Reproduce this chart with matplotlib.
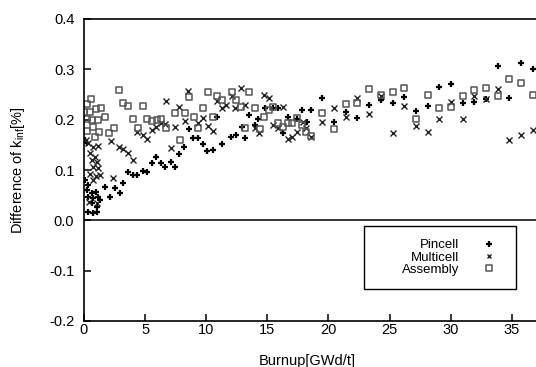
import numpy as np

import matplotlib
matplotlib.use('Agg')

import matplotlib.pyplot as plt
from matplotlib.path import Path

plt.rcParams['font.family'] = ['Liberation Sans', 'DejaVu Sans']
plt.rcParams['mathtext.fontset'] = 'custom'
plt.rcParams['mathtext.rm'] = 'Liberation Sans'

# burnup [GWd/t] and difference of k-inf [%]
pin_x = [0.08, 0.22, 0.08, 0.35, 0.22, 0.63, 0.98, 0.35, 0.76, 1.17, 1.31, 0.63, 1.04, 0.35, 0.71, 1.04,
         1.72, 2.54, 2.95, 2.13, 3.22, 3.63, 4.03, 4.36, 4.80, 5.18, 5.54, 5.89, 6.28, 6.63, 7.10, 7.45,
         7.80, 8.21, 8.62, 8.94, 9.35, 9.71, 10.09, 10.53, 10.86, 11.27, 12.00, 12.44, 12.91, 13.18, 13.53,
         13.99, 14.24, 14.81, 15.47, 15.88, 16.28, 16.69, 17.43, 17.84, 18.25, 18.58, 19.48, 20.46, 21.44,
         22.34, 23.32, 24.30, 25.29, 26.19, 27.17, 28.15, 29.05, 30.03, 31.01, 31.91, 32.90, 33.88, 34.78,
         35.76, 36.74]
pin_y = [0.160, 0.153, 0.080, 0.070, 0.060, 0.054, 0.057, 0.047, 0.044, 0.047, 0.040, 0.034, 0.027, 0.017,
         0.015, 0.017, 0.067, 0.064, 0.055, 0.047, 0.075, 0.097, 0.090, 0.090, 0.099, 0.097, 0.114, 0.125,
         0.114, 0.105, 0.116, 0.106, 0.131, 0.146, 0.181, 0.163, 0.163, 0.152, 0.138, 0.140, 0.205, 0.151,
         0.165, 0.169, 0.186, 0.163, 0.209, 0.189, 0.201, 0.224, 0.223, 0.223, 0.174, 0.206, 0.201, 0.219,
         0.196, 0.219, 0.243, 0.196, 0.216, 0.203, 0.229, 0.239, 0.234, 0.245, 0.218, 0.228, 0.265, 0.270,
         0.234, 0.236, 0.242, 0.307, 0.244, 0.312, 0.300]

multi_x = [0.16, 0.35, 0.76, 1.17, 0.49, 0.90, 0.63, 1.04, 0.76, 1.17, 0.49, 0.98, 1.31, 0.76, 2.18, 2.89,
           3.17, 2.40, 0.43, 1.04, 3.63, 4.03, 4.36, 4.80, 5.18, 5.54, 5.89, 6.28, 6.63, 6.71, 7.10, 7.45,
           7.80, 8.27, 8.54, 9.35, 9.76, 10.17, 10.58, 10.86, 11.27, 11.62, 12.09, 12.36, 12.82, 13.18,
           13.99, 14.32, 14.73, 15.14, 15.47, 15.88, 16.28, 16.69, 17.02, 17.43, 17.92, 18.17, 18.58, 19.48,
           20.46, 21.44, 22.34, 23.32, 24.30, 25.29, 26.19, 27.17, 28.15, 29.05, 30.03, 31.01, 31.91, 32.90,
           33.88, 34.78, 35.76, 36.74]
multi_y = [0.160, 0.153, 0.145, 0.148, 0.133, 0.126, 0.120, 0.116, 0.106, 0.103, 0.093, 0.088, 0.090, 0.080,
           0.158, 0.145, 0.141, 0.085, 0.037, 0.034, 0.134, 0.120, 0.175, 0.169, 0.162, 0.179, 0.185, 0.194,
           0.191, 0.237, 0.143, 0.185, 0.225, 0.198, 0.257, 0.194, 0.203, 0.187, 0.177, 0.237, 0.223, 0.229,
           0.247, 0.223, 0.262, 0.229, 0.184, 0.173, 0.249, 0.244, 0.189, 0.184, 0.226, 0.162, 0.166, 0.175,
           0.196, 0.183, 0.166, 0.196, 0.224, 0.206, 0.244, 0.211, 0.247, 0.174, 0.227, 0.188, 0.176, 0.201,
           0.236, 0.201, 0.247, 0.242, 0.260, 0.160, 0.169, 0.179]

asm_x = [0.55, 0.27, 0.00, 0.49, 0.98, 1.37, 0.22, 0.63, 1.17, 1.72, 0.76, 0.27, 1.25, 0.90, 2.07, 2.45,
         2.89, 3.22, 3.63, 4.80, 3.99, 5.13, 5.54, 5.95, 6.30, 4.44, 6.71, 7.45, 7.86, 8.27, 8.62, 9.00,
         9.35, 9.76, 10.17, 10.58, 10.86, 11.27, 12.09, 12.44, 12.82, 13.18, 13.53, 13.99, 14.40, 14.73,
         15.14, 15.47, 15.88, 16.28, 16.69, 17.02, 17.43, 17.84, 18.17, 18.58, 19.48, 20.46, 21.44, 22.34,
         23.32, 24.30, 25.29, 26.19, 27.17, 28.15, 29.05, 30.03, 31.01, 31.91, 32.90, 33.88, 34.78, 35.76,
         36.74]
asm_y = [0.242, 0.232, 0.216, 0.216, 0.221, 0.223, 0.201, 0.199, 0.199, 0.206, 0.186, 0.178, 0.176, 0.166,
         0.174, 0.183, 0.258, 0.234, 0.227, 0.227, 0.201, 0.201, 0.198, 0.199, 0.201, 0.183, 0.184, 0.214,
         0.159, 0.213, 0.246, 0.206, 0.183, 0.223, 0.254, 0.205, 0.247, 0.239, 0.254, 0.240, 0.225, 0.183,
         0.254, 0.223, 0.181, 0.205, 0.219, 0.225, 0.193, 0.186, 0.194, 0.193, 0.204, 0.189, 0.176, 0.168,
         0.214, 0.181, 0.231, 0.234, 0.261, 0.250, 0.254, 0.262, 0.201, 0.250, 0.223, 0.225, 0.247, 0.258,
         0.262, 0.248, 0.280, 0.273, 0.250]

labels = ['Pincell', 'Multicell', 'Assembly']
xticks = [0, 5, 10, 15, 20, 25, 30, 35]
yticks = [-0.2, -0.1, 0.0, 0.1, 0.2, 0.3, 0.4]
ytick_labels = ['-0.2', '-0.1', '0.0', '0.1', '0.2', '0.3', '0.4']

# gnuplot style box with a dot in the middle
box_dot = Path(
    [(-1, -1), (1, -1), (1, 1), (-1, 1), (-1, -1),
     (-0.1, -0.1), (0.1, -0.1), (0.1, 0.1), (-0.1, 0.1), (-0.1, -0.1)],
    [Path.MOVETO, Path.LINETO, Path.LINETO, Path.LINETO, Path.CLOSEPOLY,
     Path.MOVETO, Path.LINETO, Path.LINETO, Path.LINETO, Path.CLOSEPOLY])

fig = plt.figure(figsize = (5.36, 3.67), dpi = 100)
ax = fig.add_axes([84 / 536, 46 / 367, 488.8 / 536, 302 / 367])

ax.plot(pin_x, pin_y, ls = 'none', marker = '+', ms = 5, mew = 1.6, color = 'black', label = labels[0])
ax.plot(multi_x, multi_y, ls = 'none', marker = 'x', ms = 4, mew = 1.0, color = '#222222', label = labels[1])
ax.plot(asm_x, asm_y, ls = 'none', marker = box_dot, ms = 5, mew = 1.1, mfc = 'none', mec = '#555555', label = labels[2])

ax.axhline(0, color = 'black', lw = 1.1)

ax.set_xlim(0, 40)
ax.set_ylim(-0.2, 0.4)
ax.set_xticks(xticks)
ax.set_yticks(yticks)
ax.set_yticklabels(ytick_labels)

ax.spines['right'].set_visible(False)
for s in ['left', 'bottom', 'top']:
    ax.spines[s].set_linewidth(1.2)

ax.tick_params(axis = 'both', direction = 'in', length = 5, width = 1.1, labelsize = 10.5)
ax.tick_params(axis = 'x', pad = 1.5)
ax.tick_params(axis = 'y', pad = 7)

ax.set_xlabel('Burnup[GWd/t]', fontsize = 10.5)
ax.xaxis.set_label_coords(223 / 488.8, -0.108)
ax.set_ylabel(r'Difference of k$_{\mathregular{inf}}$[%]', fontsize = 10.5)
ax.yaxis.set_label_coords(-57 / 488.8, 0.5)

leg = ax.legend(loc = 'lower right', bbox_to_anchor = (516 / 536, 78 / 367), bbox_transform = fig.transFigure,
                borderaxespad = 0, markerfirst = False, fontsize = 9.5, labelspacing = 0,
                handlelength = 2.1, handletextpad = 1.2, borderpad = 1.0, fancybox = False,
                framealpha = 1, edgecolor = 'black', markerscale = 0.85)
leg.get_frame().set_linewidth(1.0)
# right align the legend rows, gnuplot-like
for col in leg._legend_handle_box.get_children():
    col.align = 'right'
    col.set_width(126)

plt.savefig('out.png', dpi = 100)
plt.close()
